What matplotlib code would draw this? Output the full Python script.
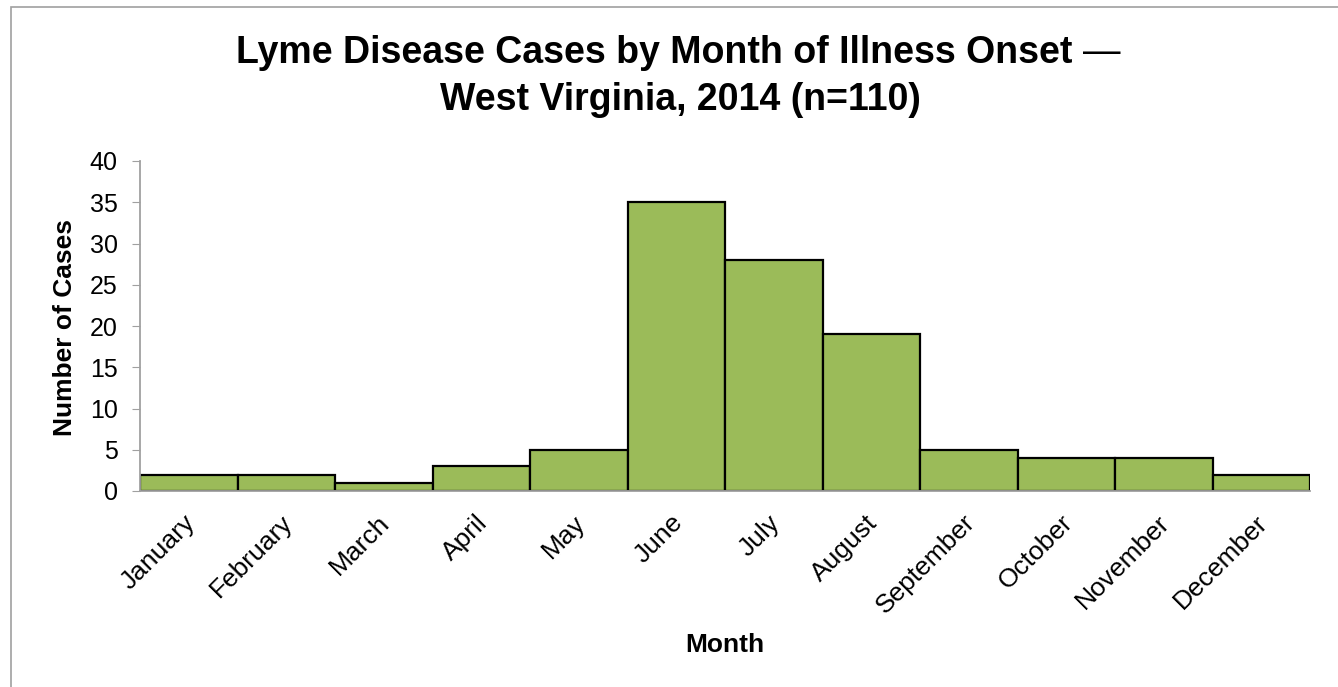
import matplotlib
matplotlib.use("Agg")
import matplotlib.pyplot as plt
import matplotlib.transforms as mtransforms
from matplotlib.patches import Rectangle

months = ["January", "February", "March", "April", "May", "June", "July",
          "August", "September", "October", "November", "December"]
cases = [2, 2, 1, 3, 5, 35, 28, 19, 5, 4, 4, 2]
yticks = [0, 5, 10, 15, 20, 25, 30, 35, 40]

plt.rcParams["font.family"] = ["Liberation Sans", "DejaVu Sans"]

W, H = 1338, 687
fig = plt.figure(figsize=(W / 100, H / 100), dpi=100)
ax = fig.add_axes([140 / W, 1 - 491 / H, 1170 / W, 330 / H])

x = list(range(len(months)))
ax.bar(x, cases, width=1.0, color="#9BBB59", edgecolor="black", linewidth=1.6)
ax.set_xlim(-0.5, len(months) - 0.5)
ax.set_ylim(0, 40)
ax.set_yticks(yticks)
ax.set_xticks(x)
ax.set_xticklabels(months, rotation=45, ha="right", rotation_mode="anchor", fontsize=19)
ax.tick_params(axis="x", length=0, pad=14)
ax.tick_params(axis="y", length=6, color="#a0a0a0", labelsize=18, pad=10)
shift = mtransforms.ScaledTranslation(-6 / 100, 0, fig.dpi_scale_trans)
for lab in ax.get_xticklabels():
    lab.set_transform(lab.get_transform() + shift)
for s in ["top", "right"]:
    ax.spines[s].set_visible(False)
for s in ["left", "bottom"]:
    ax.spines[s].set_color("#a0a0a0")
    ax.spines[s].set_linewidth(1.3)

fig.text(65 / W, 1 - 327 / H, "Number of Cases", fontsize=19, fontweight="bold",
         rotation=90, ha="center", va="center")
fig.text(725 / W, 1 - 645 / H, "Month", fontsize=19, fontweight="bold",
         ha="center", va="center")

fig.text(1072 / W, 1 - 63 / H, "Lyme Disease Cases by Month of Illness Onset",
         fontsize=27, fontweight="bold", ha="right", va="baseline")
fig.text(1083 / W, 1 - 63 / H, "\u2014", fontsize=27, ha="left", va="baseline")
fig.text(680 / W, 1 - 110 / H, "West Virginia, 2014 (n=110)",
         fontsize=27, fontweight="bold", ha="center", va="baseline")

# outer chart frame (partly cropped in the original)
fig.patches.append(Rectangle((11 / W, -0.1), 1.2, 1 - 7 / H + 0.1,
                             transform=fig.transFigure, fill=False,
                             edgecolor="#a0a0a0", linewidth=1.2))

fig.savefig("out.png", dpi=100, facecolor="white")
